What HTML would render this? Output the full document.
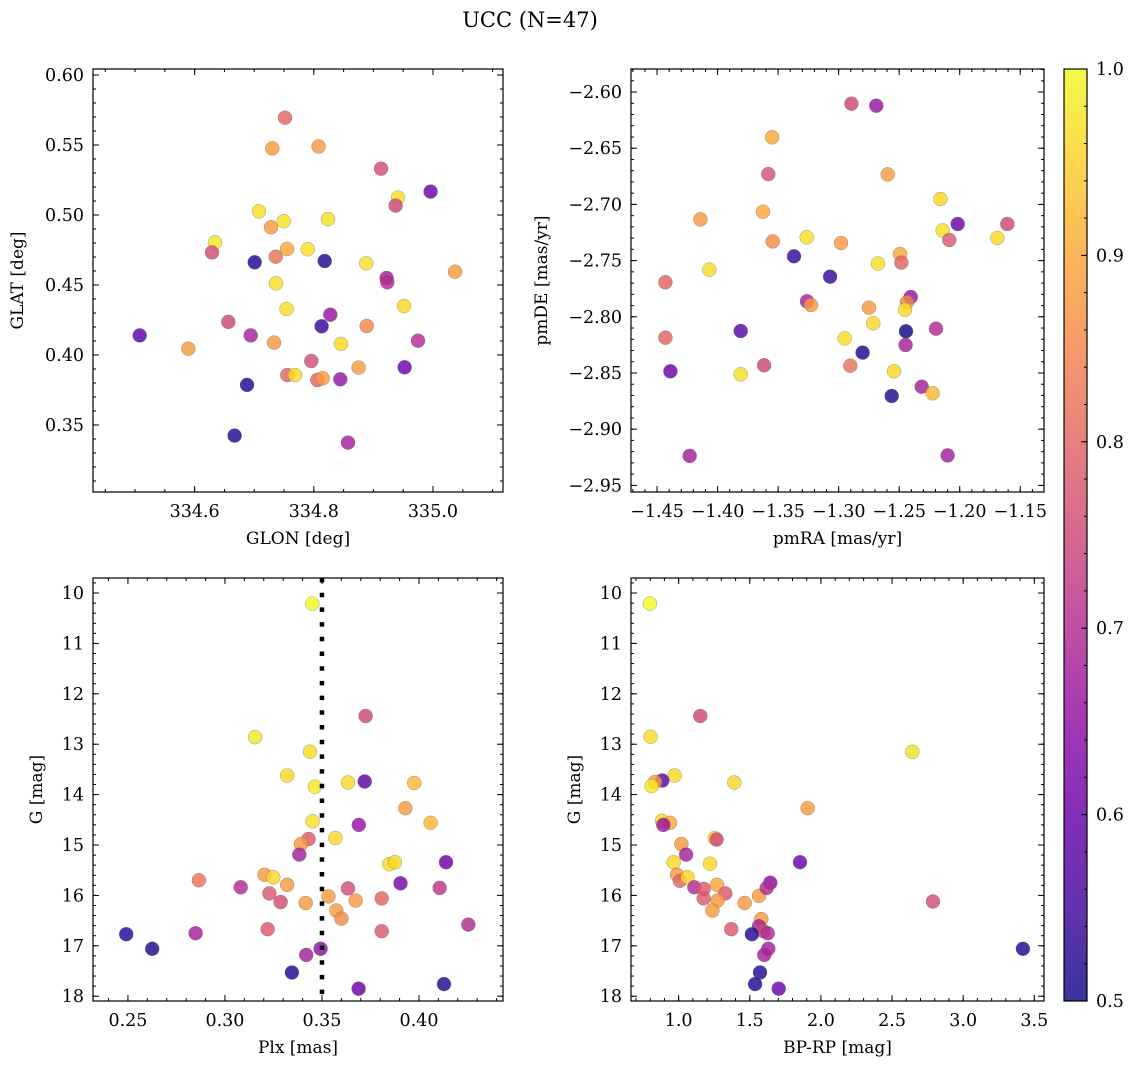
<!DOCTYPE html>
<html><head><meta charset="utf-8"><style>
html,body{margin:0;padding:0;background:#fff;}
svg{display:block;font-family:"DejaVu Serif","Liberation Serif",serif;}
</style></head><body>
<svg id="fig" width="1136" height="1068" viewBox="0 0 1136 1068" xmlns="http://www.w3.org/2000/svg">
<defs>
<linearGradient id="cbgrad" x1="0" y1="1" x2="0" y2="0">
<stop offset="0" stop-color="#0d0887"/><stop offset="0.1" stop-color="#41049d"/><stop offset="0.2" stop-color="#6a00a8"/><stop offset="0.3" stop-color="#8f0da4"/><stop offset="0.4" stop-color="#b12a90"/><stop offset="0.5" stop-color="#cc4778"/><stop offset="0.6" stop-color="#e16462"/><stop offset="0.7" stop-color="#f2844b"/><stop offset="0.8" stop-color="#fca636"/><stop offset="0.9" stop-color="#fcce25"/><stop offset="1" stop-color="#f0f921"/>
</linearGradient>
</defs>
<text x="530" y="27" text-anchor="middle" font-size="21">UCC (N=47)</text>
</svg>
<script>
// ---- data: top-left (GLON vs GLAT)
const tlGlon=[334.7516,334.7304,334.8081,334.9127,334.996,334.9413,334.9373,334.708,334.7494,334.8238,334.7281,334.6341,334.6291,334.755,334.7897,334.736,334.7007,334.8182,334.8881,335.0369,334.9222,334.9234,334.7365,334.9513,334.7544,334.8277,334.6565,334.8131,334.8887,334.5077,334.694,334.9748,334.5894,334.7331,334.8456,334.7958,334.9524,334.8752,334.7555,334.7684,334.8059,334.8148,334.8445,334.6878,334.6671,334.8573];
const tlGlat=[0.5695,0.5476,0.5490,0.5331,0.5167,0.5124,0.5067,0.5026,0.4955,0.4971,0.4912,0.4805,0.4733,0.4757,0.4755,0.4702,0.4662,0.4671,0.4655,0.4595,0.455,0.4519,0.4512,0.435,0.4329,0.4288,0.4236,0.4205,0.4207,0.414,0.414,0.4102,0.4045,0.4088,0.4079,0.3957,0.3912,0.3910,0.3857,0.3857,0.3821,0.3833,0.3826,0.3786,0.3424,0.3374];
const tlProb=[0.8,0.88,0.88,0.76,0.6,0.97,0.75,0.97,0.97,0.97,0.88,0.98,0.76,0.9,0.97,0.82,0.52,0.52,0.97,0.88,0.68,0.7,0.97,0.96,0.97,0.66,0.75,0.54,0.85,0.58,0.68,0.7,0.88,0.88,0.96,0.76,0.6,0.88,0.8,0.96,0.8,0.88,0.66,0.52,0.52,0.68];
// ---- data: top-right (pmRA vs pmDE)
const trPmra=[-1.2895,-1.2689,-1.355,-1.3581,-1.2595,-1.216,-1.4142,-1.3625,-1.2017,-1.1607,-1.2141,-1.2086,-1.169,-1.3264,-1.3545,-1.2981,-1.4068,-1.2675,-1.3369,-1.3071,-1.2493,-1.2482,-1.4431,-1.2405,-1.3261,-1.3228,-1.2436,-1.2452,-1.2749,-1.2714,-1.295,-1.4431,-1.3809,-1.2444,-1.2196,-1.2447,-1.2802,-1.3616,-1.2904,-1.439,-1.2543,-1.3809,-1.2314,-1.2224,-1.2562,-1.423,-1.21];
const trPmde=[-2.6104,-2.6122,-2.6403,-2.673,-2.6733,-2.6952,-2.7133,-2.7065,-2.7174,-2.7174,-2.7231,-2.7317,-2.7299,-2.7293,-2.7329,-2.7343,-2.7581,-2.7527,-2.7462,-2.7643,-2.7441,-2.7518,-2.7693,-2.7824,-2.7862,-2.7895,-2.7871,-2.7937,-2.7919,-2.8058,-2.8192,-2.8186,-2.8126,-2.8129,-2.8106,-2.8251,-2.8319,-2.8432,-2.8435,-2.8485,-2.8485,-2.8512,-2.8622,-2.8681,-2.8705,-2.9238,-2.9233];
const trProb=[0.75,0.66,0.9,0.77,0.88,0.96,0.88,0.9,0.6,0.75,0.97,0.78,0.96,0.97,0.86,0.88,0.97,0.97,0.54,0.54,0.9,0.8,0.8,0.66,0.68,0.88,0.85,0.96,0.88,0.96,0.97,0.8,0.58,0.5,0.7,0.68,0.52,0.75,0.82,0.6,0.96,0.97,0.68,0.92,0.52,0.68,0.68];
// ---- data: bottom-left (Plx vs G)
const blPlx=[0.345,0.3725,0.3155,0.3438,0.3321,0.3464,0.3634,0.372,0.3976,0.393,0.3452,0.406,0.369,0.3569,0.3431,0.3392,0.3383,0.3847,0.3876,0.4139,0.3204,0.3249,0.3321,0.2866,0.3081,0.3905,0.3634,0.4107,0.3229,0.3533,0.3808,0.3287,0.3674,0.3416,0.3574,0.36,0.322,0.3808,0.4254,0.2849,0.2491,0.2625,0.3493,0.3419,0.3345,0.4129,0.3689];
const blG=[10.21,12.44,12.86,13.15,13.62,13.84,13.76,13.74,13.77,14.27,14.53,14.56,14.60,14.86,14.88,14.98,15.19,15.38,15.34,15.34,15.59,15.64,15.79,15.70,15.84,15.76,15.86,15.85,15.96,16.02,16.06,16.13,16.10,16.15,16.30,16.46,16.67,16.71,16.58,16.75,16.77,17.06,17.06,17.18,17.53,17.76,17.85];
const blProb=[1.0,0.75,0.98,0.97,0.96,0.98,0.96,0.58,0.92,0.88,0.97,0.92,0.66,0.96,0.78,0.88,0.68,0.96,0.96,0.6,0.88,0.96,0.88,0.82,0.7,0.62,0.76,0.72,0.78,0.88,0.8,0.76,0.88,0.88,0.88,0.86,0.78,0.78,0.7,0.68,0.52,0.52,0.65,0.68,0.52,0.52,0.6];
// ---- data: bottom-right (BP-RP vs G)
const brBprp=[0.798,1.152,0.803,2.642,0.972,0.885,0.834,0.810,1.391,1.907,0.883,0.939,0.892,1.019,1.253,1.267,1.052,0.965,1.220,1.853,0.988,1.009,1.063,1.110,1.176,1.269,1.328,1.176,1.274,1.237,1.464,1.565,1.644,1.619,2.788,1.581,1.565,1.597,1.626,1.370,1.515,1.630,1.602,3.420,1.572,1.537,1.703];
const brG=[10.21,12.44,12.85,13.15,13.62,13.72,13.75,13.83,13.76,14.27,14.52,14.56,14.60,14.98,14.86,14.89,15.19,15.34,15.37,15.34,15.59,15.71,15.64,15.84,15.87,15.79,15.96,16.06,16.10,16.30,16.15,16.01,15.75,15.85,16.12,16.47,16.61,16.71,16.75,16.67,16.77,17.06,17.18,17.06,17.53,17.76,17.85];
const brProb=[1.0,0.75,0.97,0.97,0.96,0.58,0.88,0.98,0.96,0.88,0.96,0.9,0.66,0.88,0.96,0.75,0.68,0.96,0.96,0.6,0.88,0.8,0.96,0.7,0.78,0.9,0.78,0.78,0.88,0.88,0.88,0.88,0.64,0.7,0.76,0.88,0.68,0.75,0.7,0.78,0.52,0.68,0.68,0.52,0.52,0.52,0.6];
// ---- tick values
const tlXTicks=[334.6,334.8,335.0];
const tlYTicks=[0.35,0.40,0.45,0.50,0.55,0.60];
const trXTicks=[-1.45,-1.40,-1.35,-1.30,-1.25,-1.20,-1.15];
const trYTicks=[-2.95,-2.90,-2.85,-2.80,-2.75,-2.70,-2.65,-2.60];
const blXTicks=[0.25,0.30,0.35,0.40];
const gTicks=[10,11,12,13,14,15,16,17,18];
const brXTicks=[1.0,1.5,2.0,2.5,3.0,3.5];
const cbTicks=[0.5,0.6,0.7,0.8,0.9,1.0];
const plxRef=[0.35];

const NS='http://www.w3.org/2000/svg';
const svg=document.getElementById('fig');
const plasma=[[13,8,135],[65,4,157],[106,0,168],[143,13,164],[177,42,144],[204,71,120],[225,100,98],[242,132,75],[252,166,54],[252,206,37],[240,249,33]];
function cmap(c){
  let t=(c-0.5)/0.5; t=Math.max(0,Math.min(1,t));
  const f=t*10, i=Math.min(9,Math.floor(f)), r=f-i;
  const a=plasma[i], b=plasma[i+1];
  return 'rgb('+[0,1,2].map(k=>Math.round(a[k]+(b[k]-a[k])*r)).join(',')+')';
}
function mk(tag,attrs,parent){
  const e=document.createElementNS(NS,tag);
  for(const k in attrs) e.setAttribute(k,attrs[k]);
  (parent||svg).appendChild(e);
  return e;
}
function fmt(v,d){const s=v.toFixed(d);return s.charAt(0)==='-'?'\u2212'+s.slice(1):s;}

function panel(p){
  const g=mk('g',{});
  
  
  const sx=v=>p.x0+(v-p.xd[0])/(p.xd[1]-p.xd[0])*p.w;
  const sy=v=>p.y0+(v-p.yd[0])/(p.yd[1]-p.yd[0])*p.h;
  const xmin=Math.min(p.xd[0],p.xd[1]), xmax=Math.max(p.xd[0],p.xd[1]);
  const ymin=Math.min(p.yd[0],p.yd[1]), ymax=Math.max(p.yd[0],p.yd[1]);
  const pg=mk('g',{},g);
  
  
  for(let i=0;i<p.xs.length;i++){
    const c=mk('circle',{cx:sx(p.xs[i]).toFixed(1),cy:sy(p.ys[i]).toFixed(1),r:7,fill:cmap(p.cs[i]),'fill-opacity':0.82,stroke:'#666','stroke-opacity':0.6,'stroke-width':0.5},pg);
    
    
  }
  if(p.vline){
    for(const v of p.vline){
      const l=mk('line',{x1:sx(v),x2:sx(v),y1:p.y0,y2:p.y0+p.h,stroke:'#000','stroke-width':4.5,'stroke-dasharray':'4.5 10.2'},g);
      
      
    }
  }
  const fr=mk('rect',{x:p.x0,y:p.y0,width:p.w,height:p.h,fill:'none',stroke:'#000','stroke-width':1.2},g);
  
  
  const tg=mk('g',{stroke:'#000','stroke-width':1},g);
  function xt(v,len){const x=sx(v);mk('line',{x1:x,x2:x,y1:p.y0+p.h,y2:p.y0+p.h-len},tg);mk('line',{x1:x,x2:x,y1:p.y0,y2:p.y0+len},tg);}
  function yt(v,len){const y=sy(v);mk('line',{x1:p.x0,x2:p.x0+len,y1:y,y2:y},tg);mk('line',{x1:p.x0+p.w,x2:p.x0+p.w-len,y1:y,y2:y},tg);}
  for(let k=Math.ceil(xmin/p.xm-1e-6);k*p.xm<=xmax+1e-9;k++) xt(k*p.xm,3);
  for(let k=Math.ceil(ymin/p.ym-1e-6);k*p.ym<=ymax+1e-9;k++) yt(k*p.ym,3);
  const xl=mk('g',{'font-size':17.5,'text-anchor':'middle'},g);
  
  
  for(const v of p.xt){xt(v,6);const t=mk('text',{x:sx(v),y:p.y0+p.h+25},xl);t.textContent=fmt(v,p.xdec);}
  const yl=mk('g',{'font-size':17.5,'text-anchor':'end'},g);
  
  
  for(const v of p.yt){yt(v,6);const t=mk('text',{x:p.x0-9,y:sy(v)+6},yl);t.textContent=fmt(v,p.ydec);}
  const xa=mk('text',{x:p.x0+p.w/2,y:p.y0+p.h+52,'font-size':17,'text-anchor':'middle'},g);
  xa.textContent=p.xlabel;
  
  
  const cy=p.y0+p.h/2;
  const ya=mk('text',{x:p.ylx,y:cy,'font-size':17,'text-anchor':'middle',transform:'rotate(-90 '+p.ylx+' '+cy+')'},g);
  ya.textContent=p.ylabel;
  
  
}

panel({name:'glon-glat-panel',x0:93,y0:69,w:410,h:423,xd:[334.4294,335.1175],yd:[0.6043,0.3021],xs:tlGlon,ys:tlGlat,cs:tlProb,xt:tlXTicks,yt:tlYTicks,xm:0.05,ym:0.01,xdec:1,ydec:2,xlabel:'GLON [deg]',ylabel:'GLAT [deg]',ylx:23});
panel({name:'pm-panel',x0:631,y0:69,w:413,h:423,xd:[-1.4715,-1.1304],yd:[-2.5795,-2.9559],xs:trPmra,ys:trPmde,cs:trProb,xt:trXTicks,yt:trYTicks,xm:0.01,ym:0.01,xdec:2,ydec:2,xlabel:'pmRA [mas/yr]',ylabel:'pmDE [mas/yr]',ylx:547});
panel({name:'plx-g-panel',x0:93,y0:578,w:410,h:423,xd:[0.2320,0.4433],yd:[9.702,18.095],xs:blPlx,ys:blG,cs:blProb,xt:blXTicks,yt:gTicks,xm:0.01,ym:0.2,xdec:2,ydec:0,xlabel:'Plx [mas]',ylabel:'G [mag]',ylx:42,vline:plxRef});
panel({name:'cmd-panel',x0:631,y0:578,w:413,h:423,xd:[0.665,3.568],yd:[9.702,18.095],xs:brBprp,ys:brG,cs:brProb,xt:brXTicks,yt:gTicks,xm:0.1,ym:0.2,xdec:1,ydec:0,xlabel:'BP-RP [mag]',ylabel:'G [mag]',ylx:580});

(function(){
  const x0=1064,y0=69,w=23,h=932;
  const g=mk('g',{});
  
  
  mk('rect',{x:x0,y:y0,width:w,height:h,fill:'url(#cbgrad)','fill-opacity':0.82},g);
  mk('rect',{x:x0,y:y0,width:w,height:h,fill:'none',stroke:'#000','stroke-width':1.2},g);
  const sc=v=>y0+h-(v-0.5)/0.5*h;
  for(let k=25;k<=50;k++){const y=sc(k*0.02);mk('line',{x1:x0+w,x2:x0+w-3,y1:y,y2:y,stroke:'#000'},g);}
  const lg=mk('g',{'font-size':17.5},g);
  
  
  for(const v of cbTicks){const y=sc(v);mk('line',{x1:x0+w,x2:x0+w-6,y1:y,y2:y,stroke:'#000'},g);const t=mk('text',{x:x0+w+9,y:y+6},lg);t.textContent=v.toFixed(1);}
})();
</script>
</body></html>
